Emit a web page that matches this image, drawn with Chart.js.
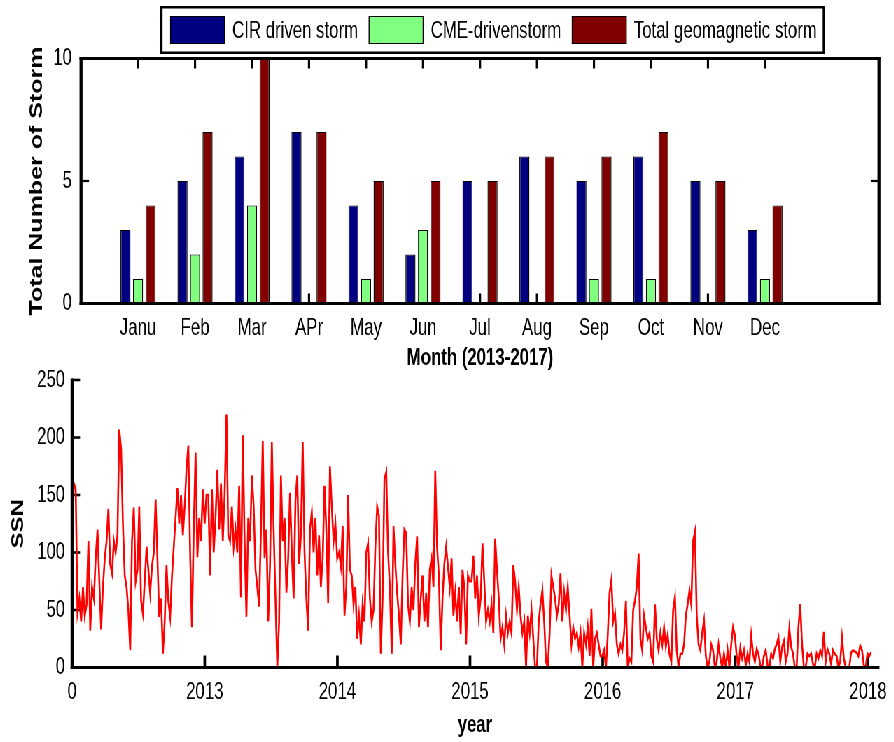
<!DOCTYPE html>
<html>
<head>
<meta charset="utf-8">
<script src="https://cdn.jsdelivr.net/npm/chart.js@4/dist/chart.umd.min.js"></script>
<style>
  html, body { margin: 0; padding: 0; background: #fff; overflow: hidden; }
  /* the figure is laid out wide and squeezed horizontally, like the exported MATLAB figure */
  #stage { position: absolute; left: 0; top: 0; width: 1277px; height: 742px; transform: scaleX(0.7); transform-origin: 0 0; }
  #storms { position: absolute; left: 0; top: 0; }
  #ssn { position: absolute; left: 0; top: 350px; }
</style>
</head>
<body>
<div id="stage">
  <canvas id="storms" width="1277" height="380" style="width:1277px;height:380px"></canvas>
  <canvas id="ssn" width="1277" height="392" style="width:1277px;height:392px"></canvas>
</div>
<script>
const SQUASH = 0.7;
const FONT = "'Liberation Sans', Arial, Helvetica, sans-serif";

// ---- monthly storm counts (2013-2017) ----
const monthLabels = ['Janu', 'Feb', 'Mar', 'APr', 'May', 'Jun', 'Jul', 'Aug', 'Sep', 'Oct', 'Nov', 'Dec'];
const cirStorms   = [3, 5, 6, 7, 4, 2, 5, 6, 5, 6, 5, 3];
const cmeStorms   = [1, 2, 4, 0, 1, 3, 0, 0, 1, 1, 0, 1];
const totalStorms = [4, 7, 10, 7, 5, 5, 5, 6, 6, 7, 5, 4];
const stormTickValues = [0, 5, 10];

// ---- sunspot number, one value every 5 days from the start of 2012 ----
const ssnStartYear = 2012;
const ssnStepDays = 5;
const ssnValues = [
  125,160,155,48,60,40,70,45,55,110, 32,70,60,95,120,75,33,70,95,110,
  138,90,82,110,100,115,207,190,125,80, 70,50,15,110,139,75,85,140,58,47,
  75,105,85,65,88,100,146,95,44,60, 12,40,89,58,44,79,105,130,156,125,
  150,115,140,172,193,100,35,120,187,96, 130,110,155,125,150,
  150,80,155,100,130,172,120,160,110,150, 220,115,110,140,105,120,100,158,61,202,
  110,44,130,110,167,140,85,70,53,120, 197,95,120,40,90,196,120,60,0,40,
  167,110,130,65,95,152,100,60,145,167, 90,115,196,100,60,32,120,135,100,130,
  80,115,70,95,158,120,56,175,140,110, 125,
  95,100,88,123,45,70,150,85,80,55, 70,25,45,20,55,40,100,108,60,40,
  50,105,140,132,12,60,164,170,100,70, 12,123,90,65,45,20,80,120,117,55,
  40,70,50,90,114,35,60,80,40,65, 35,85,95,70,171,105,80,15,60,90,
  105,88,70,95,45,65,40,70,29,85, 70,20,80,75,
  75,97,60,80,45,60,108,75,40,50, 40,55,30,112,85,60,25,35,20,45,
  30,40,30,89,75,50,70,45,30,40, 0,45,30,50,25,0,0,40,55,67,
  40,5,0,30,80,70,60,45,55,82, 40,65,50,70,45,20,35,25,30,18,
  30,0,30,20,35,10,51,0,25,30, 20,10,
  10,15,0,28,65,76,40,47,20,12, 20,15,30,58,0,8,5,50,58,70,
  99,25,15,45,35,25,30,10,5,55, 25,15,30,20,35,18,28,12,5,50,
  61,15,0,12,12,20,45,55,67,55, 110,118,45,20,15,30,41,10,0,5,
  20,15,0,5,20,8,0,12,0,15, 0,20,35,
  28,10,0,17,8,15,2,12,5,28, 12,5,16,12,2,0,10,15,2,0,
  12,8,16,20,26,5,18,23,5,12, 34,18,12,0,0,35,55,20,0,0,
  12,10,12,3,0,12,8,15,10,31, 5,16,12,3,15,12,10,0,5,26,
  8,0,0,0,13,15,14,13,10,19, 15,2,0,12,10,13
];
const yearTickValues = [2012, 2013, 2014, 2015, 2016, 2017, 2018];
const yearTickLabels = ['0', '2013', '2014', '2015', '2016', '2017', '2018'];
const ssnTickValues = [0, 50, 100, 150, 200, 250];

Chart.defaults.color = '#000';
Chart.defaults.font.family = FONT;
Chart.defaults.animation = false;

// Inward tick marks and thick axis lines, MATLAB style
const axesFrame = {
  id: 'axesFrame',
  beforeDatasetsDraw(chart, args, o) {
    const { ctx, chartArea: a, scales: { x, y } } = chart;
    ctx.save();
    ctx.fillStyle = '#000';
    const tw = o.tickWidth;
    x.ticks.forEach(t => {
      const px = x.getPixelForValue(t.value);
      ctx.fillRect(px - tw / SQUASH / 2, a.bottom - o.xTickLength, tw / SQUASH, o.xTickLength);
      if (o.box) ctx.fillRect(px - tw / SQUASH / 2, a.top, tw / SQUASH, o.xTickLength);
    });
    const len = o.yTickLength / SQUASH;
    y.ticks.forEach(t => {
      const py = y.getPixelForValue(t.value);
      ctx.fillRect(a.left, py - tw / 2, len, tw);
      if (o.box) ctx.fillRect(a.right - len, py - tw / 2, len, tw);
    });
    ctx.restore();
  },
  afterDatasetsDraw(chart, args, o) {
    const { ctx, chartArea: a } = chart;
    const lw = o.lineWidth, vw = lw / SQUASH;
    ctx.save();
    ctx.fillStyle = '#000';
    ctx.fillRect(a.left - vw / 2, a.top - lw / 2, vw, a.bottom - a.top + lw);
    ctx.fillRect(a.left - vw / 2, a.bottom - lw / 2, a.right - a.left + vw, lw);
    if (o.box) {
      ctx.fillRect(a.left - vw / 2, a.top - lw / 2, a.right - a.left + vw, lw);
      ctx.fillRect(a.right - vw / 2, a.top - lw / 2, vw, a.bottom - a.top + lw);
    }
    ctx.restore();
  }
};

// Horizontal legend in a framed white box above the bar plot
const boxedLegend = {
  id: 'boxedLegend',
  afterDraw(chart, args, o) {
    const ctx = chart.ctx;
    const sets = chart.data.datasets;
    ctx.save();
    ctx.font = o.fontSize + 'px ' + FONT;
    const widths = sets.map(d => ctx.measureText(d.label).width);
    let w = o.padLeft;
    widths.forEach((tw, i) => { w += o.swatchW + o.textGap + tw + (i < sets.length - 1 ? o.itemGap : o.padRight); });
    const bw = o.border;
    ctx.fillStyle = '#fff';
    ctx.fillRect(o.left, o.top, w, o.height);
    ctx.fillStyle = '#000';
    ctx.fillRect(o.left, o.top, w, bw);
    ctx.fillRect(o.left, o.top + o.height - bw, w, bw);
    ctx.fillRect(o.left, o.top, bw / SQUASH, o.height);
    ctx.fillRect(o.left + w - bw / SQUASH, o.top, bw / SQUASH, o.height);
    let x = o.left + o.padLeft;
    const sy = o.top + (o.height - o.swatchH) / 2;
    sets.forEach((d, i) => {
      ctx.fillStyle = '#000';
      ctx.fillRect(x, sy, o.swatchW, o.swatchH);
      ctx.fillStyle = d.backgroundColor;
      ctx.fillRect(x + 1.4, sy + 1, o.swatchW - 2.8, o.swatchH - 2);
      x += o.swatchW + o.textGap;
      ctx.fillStyle = '#000';
      ctx.textBaseline = 'middle';
      ctx.textAlign = 'left';
      ctx.fillText(d.label, x, o.top + o.height / 2 + 1);
      x += widths[i] + o.itemGap;
    });
    ctx.restore();
  }
};

const tickFont = { size: 24 };
const titleFont = { size: 24, weight: 'bold' };

// ---- top: grouped bars per month ----
const toPoints = arr => arr.map((v, i) => ({ x: i + 1, y: v }));
new Chart(document.getElementById('storms'), {
  type: 'bar',
  data: {
    datasets: [
      { label: 'CIR driven storm', data: toPoints(cirStorms), backgroundColor: '#000080' },
      { label: 'CME-drivenstorm', data: toPoints(cmeStorms), backgroundColor: '#80FF80' },
      { label: 'Total geomagnetic storm', data: toPoints(totalStorms), backgroundColor: '#800000' }
    ]
  },
  options: {
    responsive: false,
    devicePixelRatio: 1,
    layout: { padding: { left: 0, top: 58.5, right: 21.3, bottom: 0 } },
    datasets: {
      bar: {
        categoryPercentage: 0.66,
        barPercentage: 0.8,
        borderColor: '#000',
        borderWidth: { top: 1, left: 1.4, right: 1.4, bottom: 0 },
        borderSkipped: false
      }
    },
    plugins: {
      legend: { display: false },
      tooltip: { enabled: false },
      axesFrame: { box: true, lineWidth: 3, tickWidth: 2.2, xTickLength: 10, yTickLength: 8 },
      boxedLegend: {
        left: 228.6, top: 6, height: 48, fontSize: 24,
        padLeft: 14.3, swatchW: 78.6, swatchH: 28, textGap: 10, itemGap: 15, padRight: 12, border: 2.5
      }
    },
    scales: {
      x: {
        type: 'linear', min: 0, max: 14, offset: false,
        grid: { display: false, drawTicks: false },
        border: { display: false },
        afterBuildTicks: s => { s.ticks = monthLabels.map((_, i) => ({ value: i + 1 })); },
        ticks: { autoSkip: false, maxRotation: 0, padding: 10, font: tickFont,
                 callback: v => monthLabels[v - 1] || '' },
        title: { display: true, text: 'Month (2013-2017)', font: titleFont, padding: { top: 0, bottom: 7.6 } },
        afterFit: s => { s.height = 76.5; }
      },
      y: {
        min: 0, max: 10,
        grid: { display: false, drawTicks: false },
        border: { display: false },
        afterBuildTicks: s => { s.ticks = stormTickValues.map(v => ({ value: v })); },
        ticks: { padding: 13, font: tickFont },
        title: { display: true, text: 'Total Number of Storm', font: { size: 25, weight: 'bold' }, padding: { top: 38, bottom: 0 } },
        afterFit: s => { s.width = 115.7; }
      }
    }
  },
  plugins: [axesFrame, boxedLegend]
});

// ---- bottom: sunspot number time series ----
new Chart(document.getElementById('ssn'), {
  type: 'line',
  data: {
    datasets: [{
      label: 'SSN',
      data: ssnValues.map((v, i) => ({ x: ssnStartYear + i * ssnStepDays / 365.25, y: v })),
      borderColor: '#ff0000',
      borderWidth: 2.6,
      pointRadius: 0,
      tension: 0,
      fill: false
    }]
  },
  options: {
    responsive: false,
    devicePixelRatio: 1,
    layout: { padding: { left: 0, top: 30, right: 19.9, bottom: 0 } },
    plugins: {
      legend: { display: false },
      tooltip: { enabled: false },
      axesFrame: { box: false, lineWidth: 3, tickWidth: 2.6, xTickLength: 12, yTickLength: 8 }
    },
    scales: {
      x: {
        type: 'linear', min: 2012, max: 2018.075,
        grid: { display: false, drawTicks: false },
        border: { display: false },
        afterBuildTicks: s => { s.ticks = yearTickValues.map(v => ({ value: v })); },
        ticks: { autoSkip: false, maxRotation: 0, padding: 10, font: tickFont,
                 callback: v => yearTickLabels[yearTickValues.indexOf(v)] },
        title: { display: true, text: 'year', font: titleFont, padding: { top: 0, bottom: 2.6 } },
        afterFit: s => { s.height = 74.5; }
      },
      y: {
        min: 0, max: 250,
        grid: { display: false, drawTicks: false },
        border: { display: false },
        afterBuildTicks: s => { s.ticks = ssnTickValues.map(v => ({ value: v })); },
        ticks: { padding: 10, font: tickFont },
        title: { display: true, text: 'SSN', font: titleFont, padding: { top: 12, bottom: 0 } },
        afterFit: s => { s.width = 102.9; }
      }
    }
  },
  plugins: [axesFrame]
});
</script>
</body>
</html>
